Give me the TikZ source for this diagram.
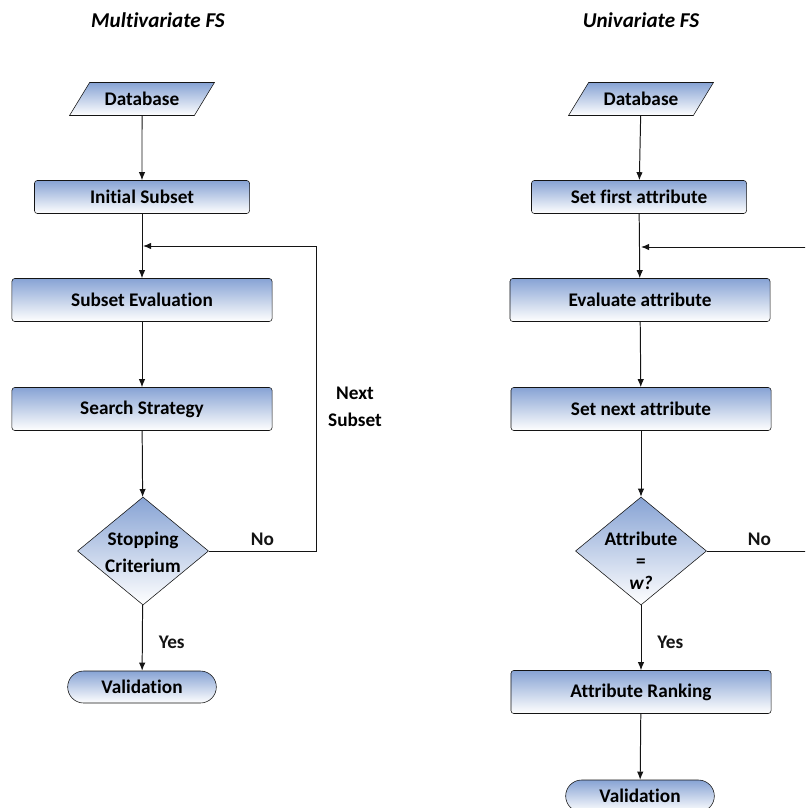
\documentclass[tikz,border=0pt]{standalone}
\usepackage{fontspec}
\setmainfont{Carlito}[Ligatures=NoCommon]
\usetikzlibrary{shapes.geometric,shapes.misc,arrows.meta,positioning}
\definecolor{boxblue}{RGB}{135,163,212}
\definecolor{edgegray}{RGB}{20,20,20}

\begin{document}
\begin{tikzpicture}[x=0.025cm, y=-0.025cm,
    base/.style={draw=edgegray, top color=boxblue, bottom color=white, align=center,
                 font=\fontsize{13.7}{16}\selectfont\bfseries},
    proc/.style={base, rectangle, rounded corners=2pt, minimum width=6.5cm, minimum height=1.075cm},
    init/.style={base, rectangle, rounded corners=2pt, minimum width=5.375cm, minimum height=0.825cm},
    io/.style={base, trapezium, trapezium left angle=55, trapezium right angle=125,
               trapezium stretches=true, minimum width=3.65cm, minimum height=0.825cm},
    term/.style={base, rounded rectangle, minimum width=3.95cm, minimum height=0.8cm},
    dec/.style={base, diamond, inner sep=0pt, minimum width=3.275cm, minimum height=2.7cm},
    lbl/.style={font=\fontsize{13.7}{19}\selectfont\bfseries, align=center},
    title/.style={font=\fontsize{15}{18}\selectfont\bfseries\itshape},
    arr/.style={-{Latex[length=2mm,width=1.6mm]}, edgegray, line width=0.7pt}]

    \useasboundingbox (0,0) rectangle (805,808);
    \clip (0,0) rectangle (805,808);

    % Multivariate
    \node[title] (t1) at (158,20) {Multivariate FS};
    \node[io] (db1) at (142,99) {Database};
    \node[init] (init1) at (142,197) {Initial Subset};
    \node[proc] (eval1) at (142,300) {Subset Evaluation};
    \node[proc] (search1) at (142,409) {Search Strategy};
    \node[dec] (stop1) at (143,551) {};
    \node[lbl] (stoptxt) at (143,552) {Stopping\\Criterium};
    \node[term] (valid1) at (142,687) {Validation};
    \node[lbl] (nextsub) at (355,407) {Next\\Subset};
    \coordinate (join1) at (143,246);
    \coordinate (loop1) at (316,246);

    \draw[arr] (db1) -- (init1);
    \draw[arr] (init1) -- (eval1);
    \draw[arr] (eval1) -- (search1);
    \draw[arr] (search1) -- (stop1);
    \draw[arr] (stop1) -- node[lbl, right=8pt, yshift=-3pt]{Yes} (valid1);
    \draw[arr] (stop1.east) -| node[lbl, above, pos=0.25]{No} (loop1) -- (join1);

    % Univariate
    \node[title] (t2) at (641,20) {Univariate FS};
    \node[io] (db2) at (641,99) {Database};
    \node[init] (init2) at (639,197) {Set first attribute};
    \node[proc] (eval2) at (640,300) {Evaluate attribute};
    \node[proc] (next2) at (641,409) {Set next attribute};
    \node[dec] (ask2) at (641,551) {};
    \node[lbl, font=\fontsize{13.7}{15.6}\selectfont\bfseries] (asktxt) at (641,561) {Attribute\\=\\\textit{w?}};
    \node[proc] (rank2) at (641,692) {Attribute Ranking};
    \node[term] (valid2) at (640,796) {Validation};
    \coordinate (join2) at (641,247);
    \coordinate (loop2) at (812,247);

    \draw[arr] (db2) -- (init2);
    \draw[arr] (init2) -- (eval2);
    \draw[arr] (eval2) -- (next2);
    \draw[arr] (next2) -- (ask2);
    \draw[arr] (ask2) -- node[lbl, right=8pt, yshift=-3pt]{Yes} (rank2);
    \draw[arr] (rank2) -- (valid2);
    \draw[arr] (ask2.east) -| node[lbl, above, pos=0.25]{No} (loop2) -- (join2);
\end{tikzpicture}
\end{document}
